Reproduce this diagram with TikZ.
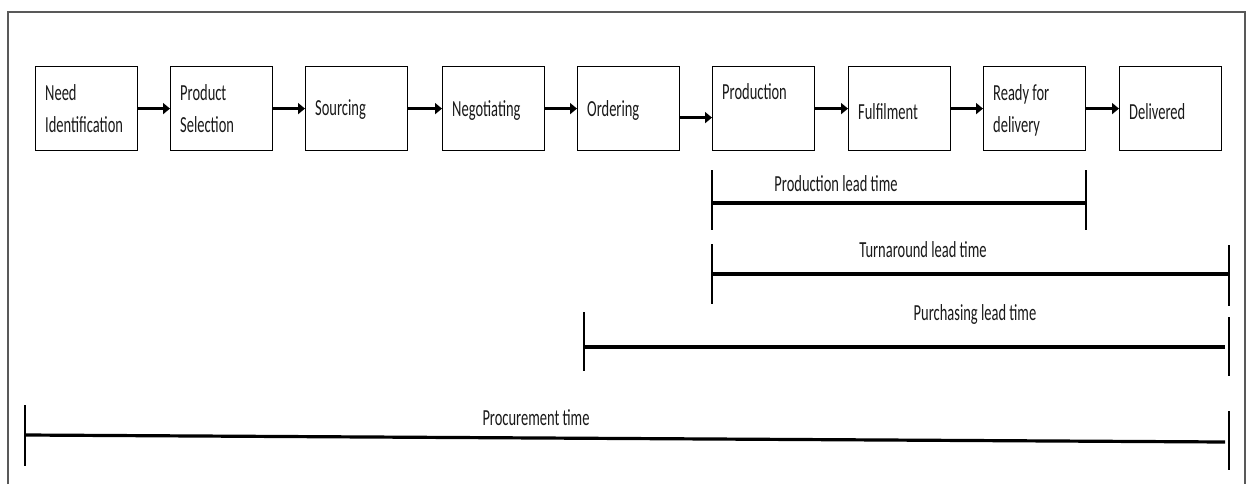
\documentclass[tikz,border=0pt]{standalone}
\usepackage{fontspec}
\setmainfont[FakeStretch=0.63]{Carlito}
\usetikzlibrary{arrows.meta,calc}

\tikzset{
  stage/.style={draw=black, line width=1.2pt, minimum width=102pt, minimum height=84pt,
                inner sep=0pt, anchor=north west},
  stagetext/.style={anchor=base west, align=left, inner sep=0pt, text=black!90,
                    font=\fontsize{23}{32}\selectfont},
  flow/.style={line width=2.8pt, -{Triangle[length=7pt,width=11pt]}},
  span/.style={line width=3.2pt, black},
  tick/.style={line width=1.6pt, black},
  spantext/.style={anchor=base, inner sep=0pt, text=black!90,
                   font=\fontsize{23}{32}\selectfont},
  frame/.style={line width=1.4pt, black!65}
}

\begin{document}
\begin{tikzpicture}[x=1pt, y=-1pt]
\useasboundingbox (0,0) rectangle (1246,484);

% outer frame (open at the bottom)
\draw[frame] (8,484) -- (8,12) -- (1245,12) -- (1245,484);

% process stages
\node[stage] (need)  at (35,66)   {};
\node[stage] (sel)   at (170,66)  {};
\node[stage] (src)   at (305,66)  {};
\node[stage] (neg)   at (442,66)  {};
\node[stage] (ord)   at (577,66)  {};
\node[stage] (prod)  at (712,66)  {};
\node[stage] (ful)   at (848,66)  {};
\node[stage] (ready) at (983,66)  {};
\node[stage] (del)   at (1119,66) {};

% stage captions (two-line captions sit on the baseline of their last line)
\node[stagetext] (tneed)  at ($(need.north west)+(10,66)$)  {Need\\Identification};
\node[stagetext] (tsel)   at ($(sel.north west)+(10,66)$)   {Product\\Selection};
\node[stagetext] (tsrc)   at ($(src.north west)+(10,49)$)   {Sourcing};
\node[stagetext] (tneg)   at ($(neg.north west)+(10,51)$)   {Negotiating};
\node[stagetext] (tord)   at ($(ord.north west)+(10,51)$)   {Ordering};
\node[stagetext] (tprod)  at ($(prod.north west)+(10,34)$)  {Production};
\node[stagetext] (tful)   at ($(ful.north west)+(10,53)$)   {Fulfilment};
\node[stagetext] (tready) at ($(ready.north west)+(10,66)$) {Ready for\\delivery};
\node[stagetext] (tdel)   at ($(del.north west)+(10,53)$)   {Delivered};

% flow arrows
\draw[flow] (need.east) -- (sel.west);
\draw[flow] (sel.east)  -- (src.west);
\draw[flow] (src.east)  -- (neg.west);
\draw[flow] (neg.east)  -- (ord.west);
\draw[flow] ([yshift=-9pt]ord.east) -- ([yshift=-9pt]prod.west);
\draw[flow] (prod.east) -- (ful.west);
\draw[flow] (ful.east)  -- (ready.west);
\draw[flow] (ready.east) -- (del.west);

% production lead time
\coordinate (pl1) at (712,203);
\coordinate (pl2) at (1086,203);
\draw[tick] (712,170) -- (712,230);
\draw[tick] (1086,170) -- (1086,230);
\draw[span] (pl1) -- (pl2);
\node[spantext] (lpl) at (836,191) {Production lead time};

% turnaround lead time
\coordinate (tl1) at (712,274);
\coordinate (tl2) at (1229,274);
\draw[tick] (712,244) -- (712,304);
\draw[tick] (1229,245) -- (1229,306);
\draw[span] (tl1) -- (tl2);
\node[spantext] (ltl) at (923,257) {Turnaround lead time};

% purchasing lead time
\coordinate (ul1) at (584,347);
\coordinate (ul2) at (1225,347);
\draw[tick] (584,312) -- (584,371);
\draw[tick] (1229,317) -- (1229,376);
\draw[span] (ul1) -- (ul2);
\node[spantext] (lul) at (975,320) {Purchasing lead time};

% procurement time
\coordinate (pt1) at (25,435);
\coordinate (pt2) at (1225,442);
\draw[tick] (25,405) -- (25,466);
\draw[tick] (1229,411) -- (1229,470);
\draw[span] (pt1) -- (pt2);
\node[spantext] (lpt) at (536,425) {Procurement time};
\end{tikzpicture}
\end{document}
